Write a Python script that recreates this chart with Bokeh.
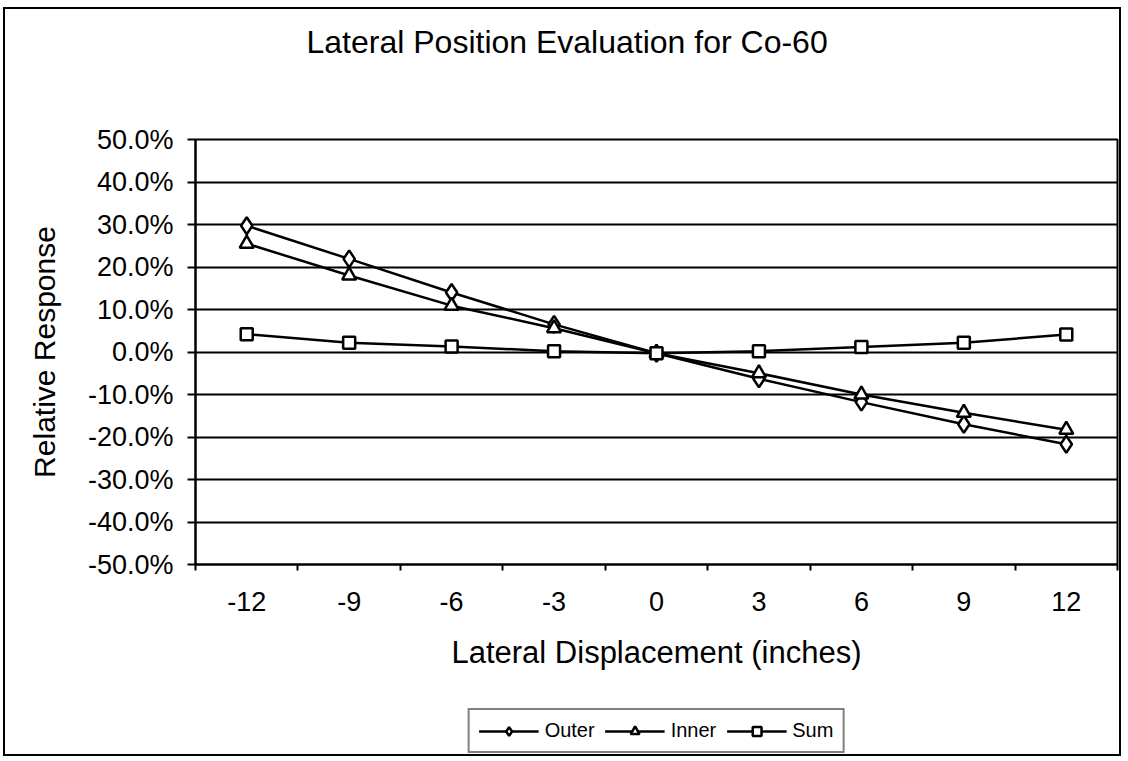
from bokeh.plotting import figure
from bokeh.layouts import column
from bokeh.models import (Range1d, FixedTicker, NumeralTickFormatter, Legend,
                          LegendItem, ColumnDataSource, Label)
from bokeh.embed import file_html
from bokeh.resources import INLINE

# ---- data ----
displacement = [-12, -9, -6, -3, 0, 3, 6, 9, 12]
outer = [0.297, 0.219, 0.140, 0.065, -0.003, -0.063, -0.118, -0.170, -0.217]
inner = [0.255, 0.180, 0.109, 0.056, -0.003, -0.050, -0.100, -0.143, -0.183]
sum_resp = [0.042, 0.022, 0.013, 0.002, -0.003, 0.002, 0.012, 0.022, 0.041]
y_ticks = [-0.5, -0.4, -0.3, -0.2, -0.1, 0.0, 0.1, 0.2, 0.3, 0.4, 0.5]
series_names = ["Outer", "Inner", "Sum"]
title_text = "Lateral Position Evaluation for Co-60"
x_title = "Lateral Displacement (inches)"
y_title = "Relative Response"

FONT = "Liberation Sans"
step = displacement[1] - displacement[0]
boundaries = [d - step / 2 for d in displacement] + [displacement[-1] + step / 2]
src = ColumnDataSource(dict(x=displacement, outer=outer, inner=inner, s=sum_resp))

CANVAS_W = 1114
LEFT, RIGHT = 190, 2

# ---------- title strip ----------
pt = figure(width=CANVAS_W, height=115, output_backend="svg", toolbar_location=None,
            x_axis_type=None, y_axis_type=None, min_border=0,
            min_border_left=0, min_border_right=0, min_border_top=0, min_border_bottom=0)
pt.outline_line_color = None
pt.grid.visible = False
pt.add_layout(Label(x=111, y=83, x_units="screen", y_units="screen", text=title_text,
                    text_font=FONT, text_font_size="32px", text_color="black",
                    text_align="left", text_baseline="alphabetic"))

# ---------- main chart ----------
p = figure(frame_width=922, frame_height=425, output_backend="svg", toolbar_location=None,
           x_range=Range1d(boundaries[0], boundaries[-1]),
           y_range=Range1d(y_ticks[0], y_ticks[-1]),
           min_border_left=LEFT, min_border_right=RIGHT,
           min_border_top=15, min_border_bottom=135)
p.background_fill_color = "white"
p.border_fill_color = "white"
p.outline_line_color = "black"
p.outline_line_width = 2

p.xgrid.visible = False
p.ygrid.ticker = FixedTicker(ticks=y_ticks)
p.ygrid.grid_line_color = "black"
p.ygrid.grid_line_width = 2

xa = p.xaxis[0]
xa.ticker = FixedTicker(ticks=displacement, minor_ticks=boundaries)
xa.major_label_overrides = {d: str(d) for d in displacement}
xa.major_tick_out = 0
xa.major_tick_in = 0
xa.minor_tick_out = 6
xa.minor_tick_in = 0
xa.minor_tick_line_color = "black"
xa.minor_tick_line_width = 2
xa.axis_line_width = 2
xa.axis_line_color = "black"
xa.major_label_text_font = FONT
xa.major_label_text_font_size = "27px"
xa.major_label_text_color = "black"
xa.major_label_standoff = 21
xa.axis_label = x_title
xa.axis_label_text_font = FONT
xa.axis_label_text_font_size = "31px"
xa.axis_label_text_font_style = "normal"
xa.axis_label_text_color = "black"
xa.axis_label_standoff = 21

ya = p.yaxis[0]
ya.ticker = FixedTicker(ticks=y_ticks)
ya.formatter = NumeralTickFormatter(format="0.0%")
ya.major_tick_out = 8
ya.major_tick_in = 0
ya.minor_tick_out = 0
ya.minor_tick_in = 0
ya.major_tick_line_width = 2
ya.major_tick_line_color = "black"
ya.axis_line_width = 2
ya.axis_line_color = "black"
ya.major_label_text_font = FONT
ya.major_label_text_font_size = "27px"
ya.major_label_text_color = "black"
ya.major_label_standoff = 14
ya.axis_label = y_title
ya.axis_label_text_font = FONT
ya.axis_label_text_font_size = "30px"
ya.axis_label_text_font_style = "normal"
ya.axis_label_text_color = "black"
ya.axis_label_standoff = 24

line_kw = dict(line_color="black", line_width=2.5)
m_kw = dict(fill_color="white", line_color="black", line_width=2.5)
styles = [("outer", dict(marker="diamond", size=17)),
          ("inner", dict(marker="triangle", size=14)),
          ("s", dict(marker="square", size=12))]

for col, mk in styles:
    p.line("x", col, source=src, **line_kw)
    p.scatter("x", col, source=src, **mk, **m_kw)

# ---------- legend strip (its view window lies above all data, so only the legend shows) ----------
pl = figure(width=CANVAS_W, height=55, output_backend="svg", toolbar_location=None,
            x_axis_type=None, y_axis_type=None, min_border=0,
            x_range=Range1d(boundaries[0], boundaries[-1]), y_range=Range1d(2, 3),
            min_border_left=LEFT, min_border_right=RIGHT,
            min_border_top=0, min_border_bottom=0)
pl.outline_line_color = None
pl.grid.visible = False

items = []
for name, (col, mk) in zip(series_names, styles):
    rl = pl.line("x", col, source=src, **line_kw)
    rm = pl.scatter("x", col, source=src, **mk, **m_kw)
    items.append(LegendItem(label=name, renderers=[rl, rm]))

legend = Legend(items=items, orientation="horizontal", location="top_center")
legend.label_text_font = FONT
legend.label_text_font_size = "20px"
legend.label_text_color = "black"
legend.glyph_width = 60
legend.glyph_height = 22
legend.label_standoff = 6
legend.spacing = 10
legend.padding = 9
legend.margin = 9
legend.border_line_color = "black"
legend.border_line_width = 2
legend.background_fill_color = "white"
legend.background_fill_alpha = 1
pl.add_layout(legend, "center")

layout = column(pt, p, pl, spacing=0,
                styles={"border": "2px solid black", "margin-left": "3px", "margin-top": "7px"})

open("out.html", "w").write(file_html(layout, INLINE))
